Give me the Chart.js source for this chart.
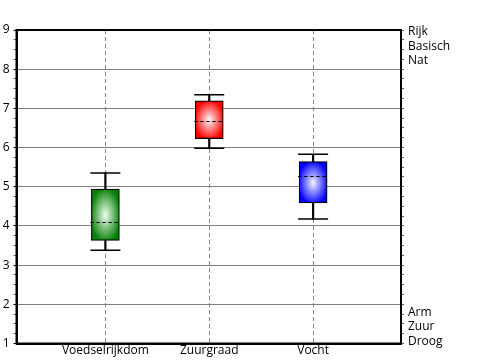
<!DOCTYPE html>
<html><head><meta charset="utf-8">
<script src="https://cdn.jsdelivr.net/npm/chart.js@4"></script>
<style>html,body{margin:0;padding:0;background:#fff}canvas{display:block}</style>
</head><body>
<canvas id="c" width="500" height="360"></canvas>
<script>
// ---- data ----
const categories = ['Voedselrijkdom', 'Zuurgraad', 'Vocht'];
const whiskerLow  = [3.38, 5.98, 4.18];
const q1          = [3.63, 6.23, 4.59];
const median      = [4.09, 6.69, 5.27];
const q3          = [4.94, 7.19, 5.64];
const whiskerHigh = [5.35, 7.35, 5.83];
const topLabels = ['Rijk', 'Basisch', 'Nat'];
const bottomLabels = ['Arm', 'Zuur', 'Droog'];

// ---- styles ----
const boxColors  = ['#058005', '#ff0000', '#0000ff'];
const boxCenters = ['#f2fff2', '#fff6f6', '#f4f4ff'];
const FONT = {family: "'Open Sans', 'DejaVu Sans', sans-serif", size: 12};
const BOX_W = 28;
const topPos = 8.58, botPos = 1.42;

function boxFill(ctx) {
  const chart = ctx.chart, i = ctx.dataIndex;
  const xs = chart.scales.x, ys = chart.scales.y;
  if (i === undefined || !xs || !ys) return boxColors[0] || '#000';
  const cx = xs.getPixelForValue(i + 1);
  const top = ys.getPixelForValue(q3[i]);
  const bot = ys.getPixelForValue(q1[i]);
  if (!isFinite(cx) || !isFinite(top) || !isFinite(bot) || bot - top < 1) return boxColors[i];
  const h = bot - top;
  const off = document.createElement('canvas');
  off.width = Math.ceil(BOX_W) + 4; off.height = Math.ceil(h) + 4;
  const o = off.getContext('2d');
  o.fillStyle = boxColors[i];
  o.fillRect(0, 0, off.width, off.height);
  o.save();
  o.translate(off.width / 2, off.height / 2);
  o.scale(BOX_W / 2, h / 2);
  const g = o.createRadialGradient(0, 0, 0, 0, 0, 1.08);
  g.addColorStop(0, boxCenters[i]);
  g.addColorStop(1, boxColors[i]);
  o.fillStyle = g;
  o.fillRect(-3, -3, 6, 6);
  o.restore();
  const p = chart.ctx.createPattern(off, 'no-repeat');
  p.setTransform(new DOMMatrix().translate(cx - off.width / 2, top - 2));
  return p;
}

const framePlugin = {
  id: 'frame',
  afterDraw(chart) {
    const {ctx, chartArea: a} = chart;
    ctx.save();
    ctx.strokeStyle = '#000';
    ctx.lineWidth = 2;
    ctx.strokeRect(a.left, a.top, a.right - a.left, a.bottom - a.top);
    ctx.restore();
  }
};

const medianPlugin = {
  id: 'medians',
  afterDatasetsDraw(chart) {
    const meta = chart.getDatasetMeta(1);
    const ys = chart.scales.y;
    const ctx = chart.ctx;
    ctx.save();
    ctx.strokeStyle = '#000';
    ctx.lineWidth = 1.2;
    ctx.setLineDash([3.5, 2.5]);
    meta.data.forEach((el, i) => {
      const y = Math.round(ys.getPixelForValue(median[i])) + 0.5;
      ctx.beginPath();
      ctx.moveTo(el.x - el.width / 2 - 1, y);
      ctx.lineTo(el.x + el.width / 2, y);
      ctx.stroke();
    });
    ctx.restore();
  }
};

const capData = [];
categories.forEach((c, i) => {
  capData.push({x: i + 1, y: whiskerHigh[i]});
  capData.push({x: i + 1, y: whiskerLow[i]});
});

const chart = new Chart(document.getElementById('c'), {
  type: 'bar',
  data: {
    datasets: [
      {
        type: 'bar', label: 'stems', order: 3, grouped: false,
        data: categories.map((c, i) => ({x: i + 1, y: [whiskerLow[i], whiskerHigh[i]]})),
        backgroundColor: '#000', borderWidth: 0, barThickness: 1.5
      },
      {
        type: 'bar', label: 'boxes', order: 2, grouped: false,
        data: categories.map((c, i) => ({x: i + 1, y: [q1[i], q3[i]]})),
        backgroundColor: boxFill, borderColor: '#000', borderWidth: 1.2,
        borderSkipped: false, barThickness: BOX_W
      },
      {
        type: 'scatter', label: 'caps', order: 1,
        data: capData, pointStyle: 'line', pointRadius: 15,
        pointBorderWidth: 1.5, borderColor: '#000', pointBorderColor: '#000',
        showLine: false
      }
    ]
  },
  options: {
    responsive: false,
    animation: false,
    layout: {padding: {top: 30, left: 0, right: 0, bottom: 0}},
    plugins: {legend: {display: false}, tooltip: {enabled: false}},
    scales: {
      x: {
        type: 'linear', position: 'bottom', min: 0.14423, max: 3.84615,
        offset: false,
        afterBuildTicks: s => { s.ticks = categories.map((c, i) => ({value: i + 1})); },
        ticks: {autoSkip: false, maxRotation: 0, padding: 0, color: '#000', font: FONT,
                callback: (v, idx) => categories[idx]},
        grid: {color: '#888', lineWidth: 1, drawTicks: false, offset: false},
        border: {dash: [4, 3], color: '#000', width: 2},
        afterFit: s => { s.height = 14; }
      },
      y: {
        position: 'left', min: 1, max: 9,
        ticks: {stepSize: 0.25, autoSkip: false, padding: 4, color: '#000', font: FONT,
                callback: v => Number.isInteger(v) ? String(v) : ''},
        grid: {
          color: c => (c.tick && Number.isInteger(c.tick.value) && c.tick.value > 1 && c.tick.value < 9) ? '#808080' : 'rgba(0,0,0,0)',
          tickColor: c => (c.tick && Number.isInteger(c.tick.value)) ? '#000' : '#666',
          tickLength: 3, lineWidth: 1
        },
        border: {color: '#000', width: 2},
        afterFit: s => { s.width = 16; }
      },
      y2: {
        position: 'right', min: 1, max: 9,
        afterBuildTicks: s => {
          const t = [];
          for (let k = 0; k <= 32; k++) t.push({value: 1 + k * 0.25});
          t.push({value: topPos});
          t.push({value: botPos});
          s.ticks = t;
        },
        ticks: {autoSkip: false, padding: 4, color: '#000', font: FONT,
                callback: v => v === topPos ? topLabels : (v === botPos ? bottomLabels : '')},
        grid: {
          drawOnChartArea: false, tickLength: 3,
          tickColor: c => (c.tick && (c.tick.value === topPos || c.tick.value === botPos)) ? 'rgba(0,0,0,0)' : '#666'
        },
        border: {color: '#000', width: 2},
        afterFit: s => { s.width = 99; }
      }
    }
  },
  plugins: [framePlugin, medianPlugin]
});
chart.update('none');
</script>
</body></html>
